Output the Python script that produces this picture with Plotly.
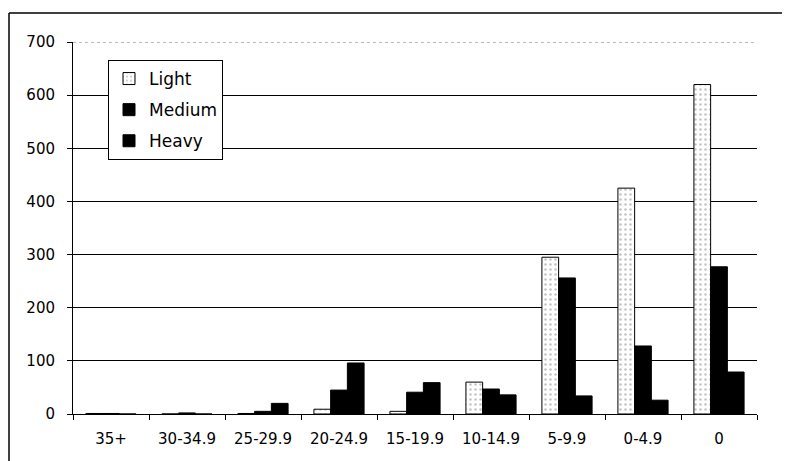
import plotly.graph_objects as go

categories = ["35+", "30-34.9", "25-29.9", "20-24.9", "15-19.9", "10-14.9", "5-9.9", "0-4.9", "0"]
light = [1, 0, 1, 9, 5, 60, 295, 425, 620]
medium = [1, 2, 5, 45, 41, 47, 256, 128, 277]
heavy = [0, 0, 20, 96, 59, 36, 34, 26, 79]
y_ticks = [0, 100, 200, 300, 400, 500, 600, 700]

FONT = "DejaVu Sans"

fig = go.Figure()
fig.add_trace(go.Bar(
    name="Light", x=categories, y=light, legendgroup="a",
    marker=dict(color="white", line=dict(color="black", width=1),
                pattern=dict(shape=".", fgcolor="#8a8a8a", bgcolor="white", size=5, solidity=0.2)),
))
fig.add_trace(go.Bar(
    name="Medium", x=categories, y=medium, legendgroup="b",
    marker=dict(color="black", line=dict(color="black", width=1)),
))
fig.add_trace(go.Bar(
    name="Heavy", x=categories, y=heavy, legendgroup="c",
    marker=dict(color="black", line=dict(color="black", width=1)),
))

L, R, T, B = 73, 28, 42, 47
W, H = 785, 461
pw, ph = W - L - R, H - T - B

def px2x(px):
    return (px - L) / pw

def px2y(py):
    return (H - B - py) / ph

fig.update_layout(
    width=W, height=H,
    margin=dict(l=L, r=R, t=T, b=B, pad=0),
    paper_bgcolor="white", plot_bgcolor="white",
    barmode="group", bargap=0.34, bargroupgap=0,
    font=dict(family=FONT, size=15, color="black"),
    showlegend=True,
    legend=dict(
        x=px2x(108), y=px2y(60), xanchor="left", yanchor="top",
        bgcolor="white", bordercolor="black", borderwidth=1,
        font=dict(family=FONT, size=17, color="black"),
        tracegroupgap=6, itemwidth=30,
    ),
    xaxis=dict(
        showline=True, linecolor="black", linewidth=1,
        ticks="outside", ticklen=5, tickcolor="black", tickson="boundaries",
        showgrid=False, ticklabelstandoff=11,
        tickfont=dict(family=FONT, size=15, color="black"),
    ),
    yaxis=dict(
        range=[0, 700], tickvals=y_ticks, ticktext=[str(v) for v in y_ticks],
        showline=True, linecolor="black", linewidth=1,
        ticks="outside", ticklen=5, tickcolor="black",
        showgrid=True, gridcolor="black", gridwidth=1,
        zeroline=False, ticklabelstandoff=9,
        tickfont=dict(family=FONT, size=15, color="black"),
    ),
    shapes=[
        dict(type="line", xref="paper", yref="y", x0=0.002, x1=1, y0=700, y1=700,
             line=dict(color="white", width=2), layer="above"),
        dict(type="line", xref="paper", yref="y", x0=0, x1=1, y0=700, y1=700,
             line=dict(color="#777777", width=1, dash="dot"), layer="above"),
        dict(type="line", xref="paper", yref="paper", x0=px2x(9), x1=px2x(782),
             y0=px2y(13), y1=px2y(13), line=dict(color="black", width=1.5)),
        dict(type="line", xref="paper", yref="paper", x0=px2x(9), x1=px2x(9),
             y0=px2y(13), y1=px2y(461), line=dict(color="black", width=1.5)),
    ],
)

fig.write_html("out.html")
